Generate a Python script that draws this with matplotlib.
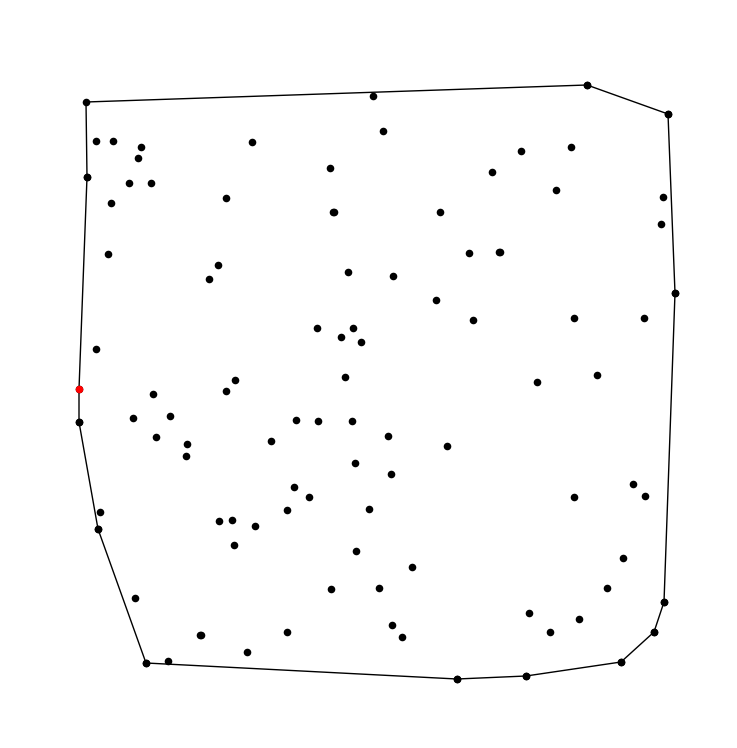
import matplotlib.pyplot as plt

# point coordinates (image units, y grows downward)
xs = [96, 113, 141, 138, 87, 129, 151, 111, 252, 226, 108, 218, 209,
      373, 383, 330, 492, 333, 334.5, 440, 469, 499, 500.5, 348, 393, 436,
      587, 668, 521, 571, 556, 663, 661, 675,
      96, 79, 153, 133, 170, 156, 187, 186, 226, 235, 271,
      473, 317, 353, 341, 361, 345, 296, 318, 352, 388, 447, 355, 391, 294,
      574, 644, 597, 537, 633,
      100, 98, 219, 232, 255, 234, 135, 200, 201.5, 247, 287, 146, 168,
      309, 287, 369, 356, 412, 331, 379, 392, 402, 457,
      645, 574, 623, 607, 664, 529, 579, 550, 654, 621, 526]
ys = [141, 141, 147, 158, 177, 183, 183, 203, 142, 198, 254, 265, 279,
      96, 131, 168, 172, 212, 212, 212, 253, 252, 252, 272, 276, 300,
      85, 114, 151, 147, 190, 197, 224, 293,
      349, 422, 394, 418, 416, 437, 444, 456, 391, 380, 441,
      320, 328, 328, 337, 342, 377, 420, 421, 421, 436, 446, 463, 474, 487,
      318, 318, 375, 382, 484,
      512, 529, 521, 520, 526, 545, 598, 635, 635, 652, 632, 663, 661,
      497, 510, 509, 551, 567, 589, 588, 625, 637, 679,
      496, 497, 558, 588, 602, 613, 619, 632, 632, 662, 676]

# starting point of the hull (drawn red)
start_x = 79
start_y = 389

# hull vertices in drawing order
hull_x = [79, 87, 86, 587, 668, 675, 664, 654, 621, 526, 457, 146, 98, 79, 79]
hull_y = [389, 177, 102, 85, 114, 293, 602, 632, 662, 676, 679, 663, 529, 422, 389]

fig = plt.figure(figsize=(7.37, 7.48), dpi=100)
ax = fig.add_axes([0, 0, 1, 1])
ax.plot(hull_x, hull_y, color='black', linewidth=1.0, zorder=1)
ax.scatter(xs, ys, s=30, color='black', marker='o', linewidths=0, zorder=2)
ax.scatter(hull_x[:-1], hull_y[:-1], s=30, color='black', marker='o', linewidths=0, zorder=2)
ax.scatter([start_x], [start_y], s=30, color='red', marker='o', linewidths=0, zorder=3)
ax.set_xlim(0, 737)
ax.set_ylim(748, 0)
ax.axis('off')
plt.savefig('out.png', dpi=100, facecolor='white')
